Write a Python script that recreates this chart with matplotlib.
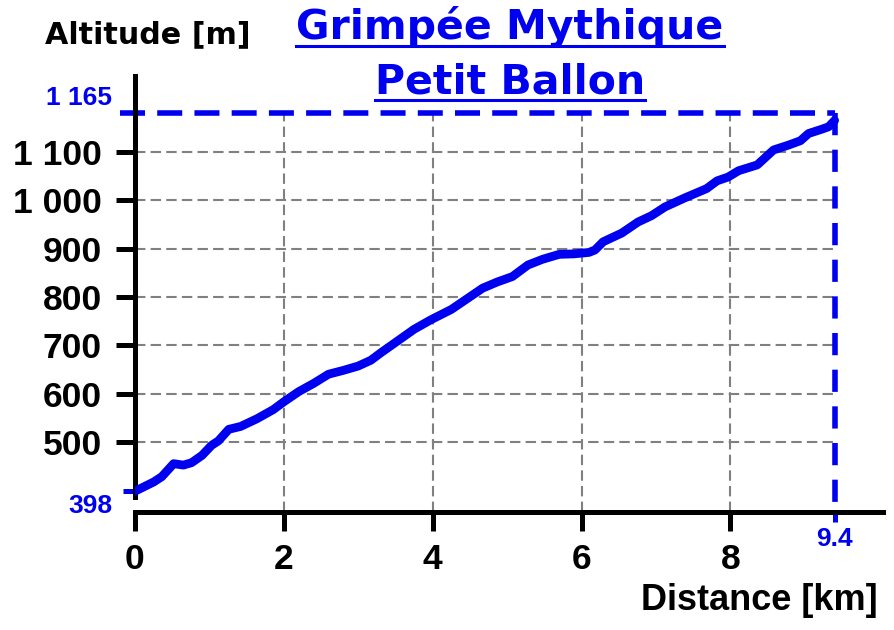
import matplotlib
matplotlib.use('Agg')
import matplotlib.pyplot as plt
from matplotlib.lines import Line2D

# profile: distance [km], altitude [m]
dist = [0.0, 0.25, 0.36, 0.52, 0.65, 0.76, 0.9, 1.03, 1.12, 1.26, 1.42, 1.64,
        1.86, 2.0, 2.2, 2.4, 2.6, 2.8, 3.0, 3.17, 3.3, 3.53, 3.75, 3.98, 4.25,
        4.47, 4.67, 4.87, 5.07, 5.28, 5.48, 5.7, 5.9, 6.1, 6.18, 6.29, 6.54,
        6.76, 6.94, 7.12, 7.39, 7.68, 7.82, 7.97, 8.11, 8.36, 8.58, 8.78, 8.94,
        9.05, 9.23, 9.32, 9.4]
alt = [398, 417, 428, 455, 452, 457, 472, 493, 502, 526, 532, 548,
       567, 583, 604, 621, 640, 648, 657, 669, 684, 709, 733, 753, 774,
       797, 818, 831, 842, 866, 878, 888, 889, 892, 897, 914, 932,
       955, 968, 986, 1005, 1024, 1040, 1048, 1061, 1073, 1104, 1114, 1123,
       1138, 1147, 1152, 1165]

y_ticks = [500, 600, 700, 800, 900, 1000, 1100]
y_labels = ['500', '600', '700', '800', '900', '1 000', '1 100']
x_ticks = [0, 2, 4, 6, 8]
x_labels = ['0', '2', '4', '6', '8']
d_end = 9.4
d_end_label = '9.4'
alt_start = 398
alt_start_label = '398'
alt_top_label = '1 165'
title_lines = ['Grimpée Mythique', 'Petit Ballon']

BLUE = '#0000f0'
GRAY = '#808080'
ARIAL = ['Liberation Sans', 'DejaVu Sans']
WIDE = ['DejaVu Sans']
plt.rcParams['font.family'] = ARIAL
plt.rcParams['font.weight'] = 'bold'

fig = plt.figure(figsize=(8.95, 6.3), dpi=100)
ax = fig.add_axes([0.1508, 0.1873, 0.8358, 0.6921])
y_lo, y_hi = 355, 1257
ax.set_xlim(0, 10.05)
ax.set_ylim(y_lo, y_hi)
frame_top = 1180  # blue dashed frame sits a bit above the summit

# grid, only inside the climb frame
ax.hlines(y_ticks, 0, d_end, colors=GRAY, lw=1.5, linestyles=(0, (5, 2.5)), zorder=1)
ax.vlines(x_ticks[1:], y_lo, frame_top, colors=GRAY, lw=1.5, linestyles=(0, (5, 2.5)), zorder=1)

ax.plot(dist, alt, color=BLUE, lw=6.3, solid_capstyle='round', solid_joinstyle='round', zorder=3)

ax.plot([-0.2, d_end], [frame_top, frame_top], color=BLUE, lw=4, dashes=(4.5, 2.2),
        clip_on=False, zorder=2)
ax.plot([d_end, d_end], [frame_top, y_lo], color=BLUE, lw=4, dashes=(4.0, 2.6),
        clip_on=False, zorder=2)

for s in ['top', 'right']:
    ax.spines[s].set_visible(False)
for s in ['left', 'bottom']:
    ax.spines[s].set_linewidth(3.6)
ax.spines['left'].set_bounds(386, y_hi)

ax.set_yticks(y_ticks, y_labels)
ax.set_xticks(x_ticks, x_labels)
ax.tick_params(which='major', length=14, width=3.6, labelsize=25.5)
ax.tick_params(axis='y', which='major', pad=10)
ax.tick_params(axis='x', which='major', pad=8)
ax.set_xticks([d_end], [d_end_label], minor=True)
ax.set_yticks([alt_start], [''], minor=True)
ax.tick_params(axis='x', which='minor', length=7, width=3.6, color=BLUE,
               labelcolor=BLUE, labelsize=19, pad=4)
ax.tick_params(axis='y', which='minor', length=9, width=3.6, color=BLUE)

ax.annotate(alt_start_label, xy=(0, alt_start), xytext=(-22, -15), textcoords='offset pixels',
            ha='right', va='center', color=BLUE, fontsize=19, annotation_clip=False)
ax.annotate(alt_top_label, xy=(0, frame_top), xytext=(-23, 15), textcoords='offset pixels',
            ha='right', va='center', color=BLUE, fontsize=19, annotation_clip=False)

fig.text(0.0503, 0.9317, 'Altitude [m]', fontsize=21.7, ha='left', va='baseline', family=WIDE)
fig.text(0.981, 0.0317, 'Distance [km]', fontsize=26, ha='right', va='baseline')

titles = []
for i, line in enumerate(title_lines):
    titles.append(fig.text(0.5698, 0.938 - i * 0.0857, line, ha='center', va='baseline',
                           color=BLUE, fontsize=29.5, family=WIDE))

# underline the title lines
fig.canvas.draw()
r = fig.canvas.get_renderer()
W, H = fig.bbox.width, fig.bbox.height
for t in titles:
    bb = t.get_window_extent(r)
    yb = t.get_position()[1] * H - 7
    fig.add_artist(Line2D([bb.x0 / W, bb.x1 / W], [yb / H, yb / H],
                          transform=fig.transFigure, color=BLUE, lw=2.2))

fig.savefig('out.png', dpi=100)
